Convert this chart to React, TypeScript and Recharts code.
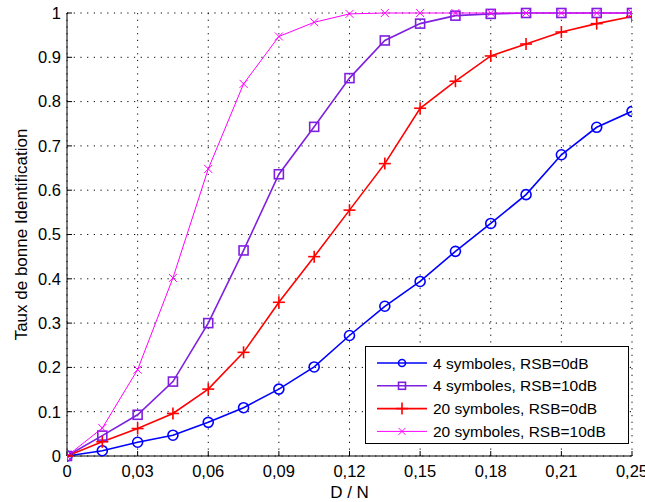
import React from "react";
import { LineChart, Line, XAxis, YAxis, CartesianGrid, Legend } from "recharts";

const dn = [0, 0.015, 0.03, 0.045, 0.06, 0.075, 0.09, 0.105, 0.12, 0.135, 0.15, 0.165, 0.18, 0.195, 0.21, 0.225, 0.24];
const sym4_0dB = [0, 0.012, 0.031, 0.047, 0.076, 0.109, 0.151, 0.201, 0.272, 0.338, 0.394, 0.462, 0.525, 0.59, 0.68, 0.742, 0.778];
const sym4_10dB = [0, 0.046, 0.093, 0.168, 0.3, 0.464, 0.636, 0.743, 0.853, 0.938, 0.976, 0.994, 0.998, 1, 1, 1, 1];
const sym20_0dB = [0, 0.032, 0.062, 0.096, 0.151, 0.234, 0.347, 0.45, 0.555, 0.66, 0.785, 0.846, 0.903, 0.93, 0.957, 0.976, 0.992];
const sym20_10dB = [0, 0.063, 0.195, 0.402, 0.648, 0.84, 0.947, 0.979, 0.998, 1, 1, 1, 1, 1, 1, 1, 1];

const seriesNames = [
  "4 symboles, RSB=0dB",
  "4 symboles, RSB=10dB",
  "20 symboles, RSB=0dB",
  "20 symboles, RSB=10dB",
];

const xTicks = [0, 0.03, 0.06, 0.09, 0.12, 0.15, 0.18, 0.21, 0.24];
const xTickLabels = ["0", "0,03", "0,06", "0,09", "0,12", "0,15", "0,18", "0,21", "0,25"];
const yTicks = [0, 0.1, 0.2, 0.3, 0.4, 0.5, 0.6, 0.7, 0.8, 0.9, 1];
const yTickLabels = ["0", "0.1", "0.2", "0.3", "0.4", "0.5", "0.6", "0.7", "0.8", "0.9", "1"];

const data = dn.map((x, i) => ({
  x,
  s0: sym4_0dB[i],
  s1: sym4_10dB[i],
  s2: sym20_0dB[i],
  s3: sym20_10dB[i],
}));

const FONT = "'Liberation Sans', Arial, Helvetica, sans-serif";
const colors = ["#0000ff", "#7f1fe0", "#ff0000", "#ff00ff"];
const kinds = ["circle", "square", "plus", "cross"];
const widths = [1.6, 1.6, 1.6, 1];

function Marker({ cx, cy, kind, color, s }: { cx: number; cy: number; kind: string; color: string; s: number }) {
  if (cx == null || cy == null || isNaN(cx) || isNaN(cy)) return null;
  if (kind === "circle") return <circle cx={cx} cy={cy} r={s} fill="none" stroke={color} strokeWidth={1.6} />;
  if (kind === "square")
    return <rect x={cx - s} y={cy - s} width={2 * s} height={2 * s} fill="none" stroke={color} strokeWidth={1.6} />;
  if (kind === "plus")
    return (
      <g stroke={color} strokeWidth={1.6}>
        <line x1={cx - s} y1={cy} x2={cx + s} y2={cy} />
        <line x1={cx} y1={cy - s} x2={cx} y2={cy + s} />
      </g>
    );
  return (
    <g stroke={color} strokeWidth={1}>
      <line x1={cx - s} y1={cy - s} x2={cx + s} y2={cy + s} />
      <line x1={cx - s} y1={cy + s} x2={cx + s} y2={cy - s} />
    </g>
  );
}

const dotSizes = [5, 4.5, 6, 4];
const legendSizes = [3.5, 3.5, 6, 3.5];

function makeDot(idx: number) {
  return (props: any) => (
    <Marker key={`d${idx}-${props.index}`} cx={props.cx} cy={props.cy} kind={kinds[idx]} color={colors[idx]} s={dotSizes[idx]} />
  );
}

function LegendBox(props: any) {
  const payload = props.payload || [];
  const ordered = seriesNames
    .map((n) => payload.find((p: any) => p.value === n))
    .filter(Boolean);
  return (
    <svg width={265} height={99} style={{ display: "block" }}>
      <rect x={0.5} y={0.5} width={263} height={97} fill="#fff" stroke="#000" strokeWidth={1} />
      {ordered.map((p: any) => {
        const i = seriesNames.indexOf(p.value);
        const y = 17 + i * 22.8;
        return (
          <g key={i}>
            <line x1={12} y1={y} x2={62} y2={y} stroke={p.color} strokeWidth={widths[i]} />
            <Marker cx={37} cy={y} kind={kinds[i]} color={p.color} s={legendSizes[i]} />
            <text x={68} y={y + 5.5} fontSize={15.5} fontFamily={FONT} fill="#000">
              {p.value}
            </text>
          </g>
        );
      })}
    </svg>
  );
}

export default function App() {
  return (
    <div style={{ position: "absolute", left: 0, top: 0, background: "#fff" }}>
      <LineChart width={645} height={502} data={data} margin={{ top: 13, right: 13, bottom: 0, left: 0 }}>
        <CartesianGrid
          xAxisId="b"
          yAxisId="l"
          stroke="#000"
          strokeDasharray="1.2 5.5"
          strokeWidth={1}
          horizontal
          vertical
        />
        <XAxis
          xAxisId="b"
          dataKey="x"
          type="number"
          domain={[0, 0.24]}
          ticks={xTicks}
          tickFormatter={(v: number) => xTickLabels[xTicks.findIndex((t) => Math.abs(t - v) < 1e-9)]}
          orientation="bottom"
          height={46}
          tickSize={-5}
          tickMargin={14}
          stroke="#000"
          tick={{ fill: "#000", fontSize: 16.5, fontFamily: FONT }}
          interval={0}
          allowDataOverflow
          label={{ value: "D / N", position: "insideBottom", offset: 4, fill: "#000", fontSize: 17, fontFamily: FONT }}
        />
        <XAxis
          xAxisId="t"
          dataKey="x"
          type="number"
          domain={[0, 0.24]}
          ticks={xTicks}
          tickFormatter={() => ""}
          orientation="top"
          height={0}
          tickSize={-5}
          stroke="#000"
          interval={0}
          allowDataOverflow
        />
        <YAxis
          yAxisId="l"
          type="number"
          domain={[0, 1]}
          ticks={yTicks}
          tickFormatter={(v: number) => yTickLabels[yTicks.findIndex((t) => Math.abs(t - v) < 1e-9)]}
          orientation="left"
          width={67}
          tickSize={-5}
          tickMargin={11}
          stroke="#000"
          tick={{ fill: "#000", fontSize: 16.5, fontFamily: FONT }}
          interval={0}
          label={{
            value: "Taux de bonne Identification",
            angle: -90,
            position: "insideLeft",
            offset: 21,
            style: { textAnchor: "middle" },
            fill: "#000",
            fontSize: 17,
            fontFamily: FONT,
          }}
        />
        <YAxis
          yAxisId="r"
          type="number"
          domain={[0, 1]}
          ticks={yTicks}
          tickFormatter={() => ""}
          orientation="right"
          width={0}
          tickSize={-5}
          stroke="#000"
          interval={0}
        />
        {["s0", "s1", "s2", "s3"].map((k, i) => (
          <Line
            key={k}
            xAxisId="b"
            yAxisId="l"
            dataKey={k}
            name={seriesNames[i]}
            stroke={colors[i]}
            strokeWidth={widths[i]}
            dot={makeDot(i)}
            activeDot={false}
            isAnimationActive={false}
          />
        ))}
        <Legend
          layout="vertical"
          align="center"
          verticalAlign="middle"
          content={<LegendBox />}
          wrapperStyle={{ left: 365, top: 346, width: 265, height: 99 }}
        />
      </LineChart>
    </div>
  );
}
